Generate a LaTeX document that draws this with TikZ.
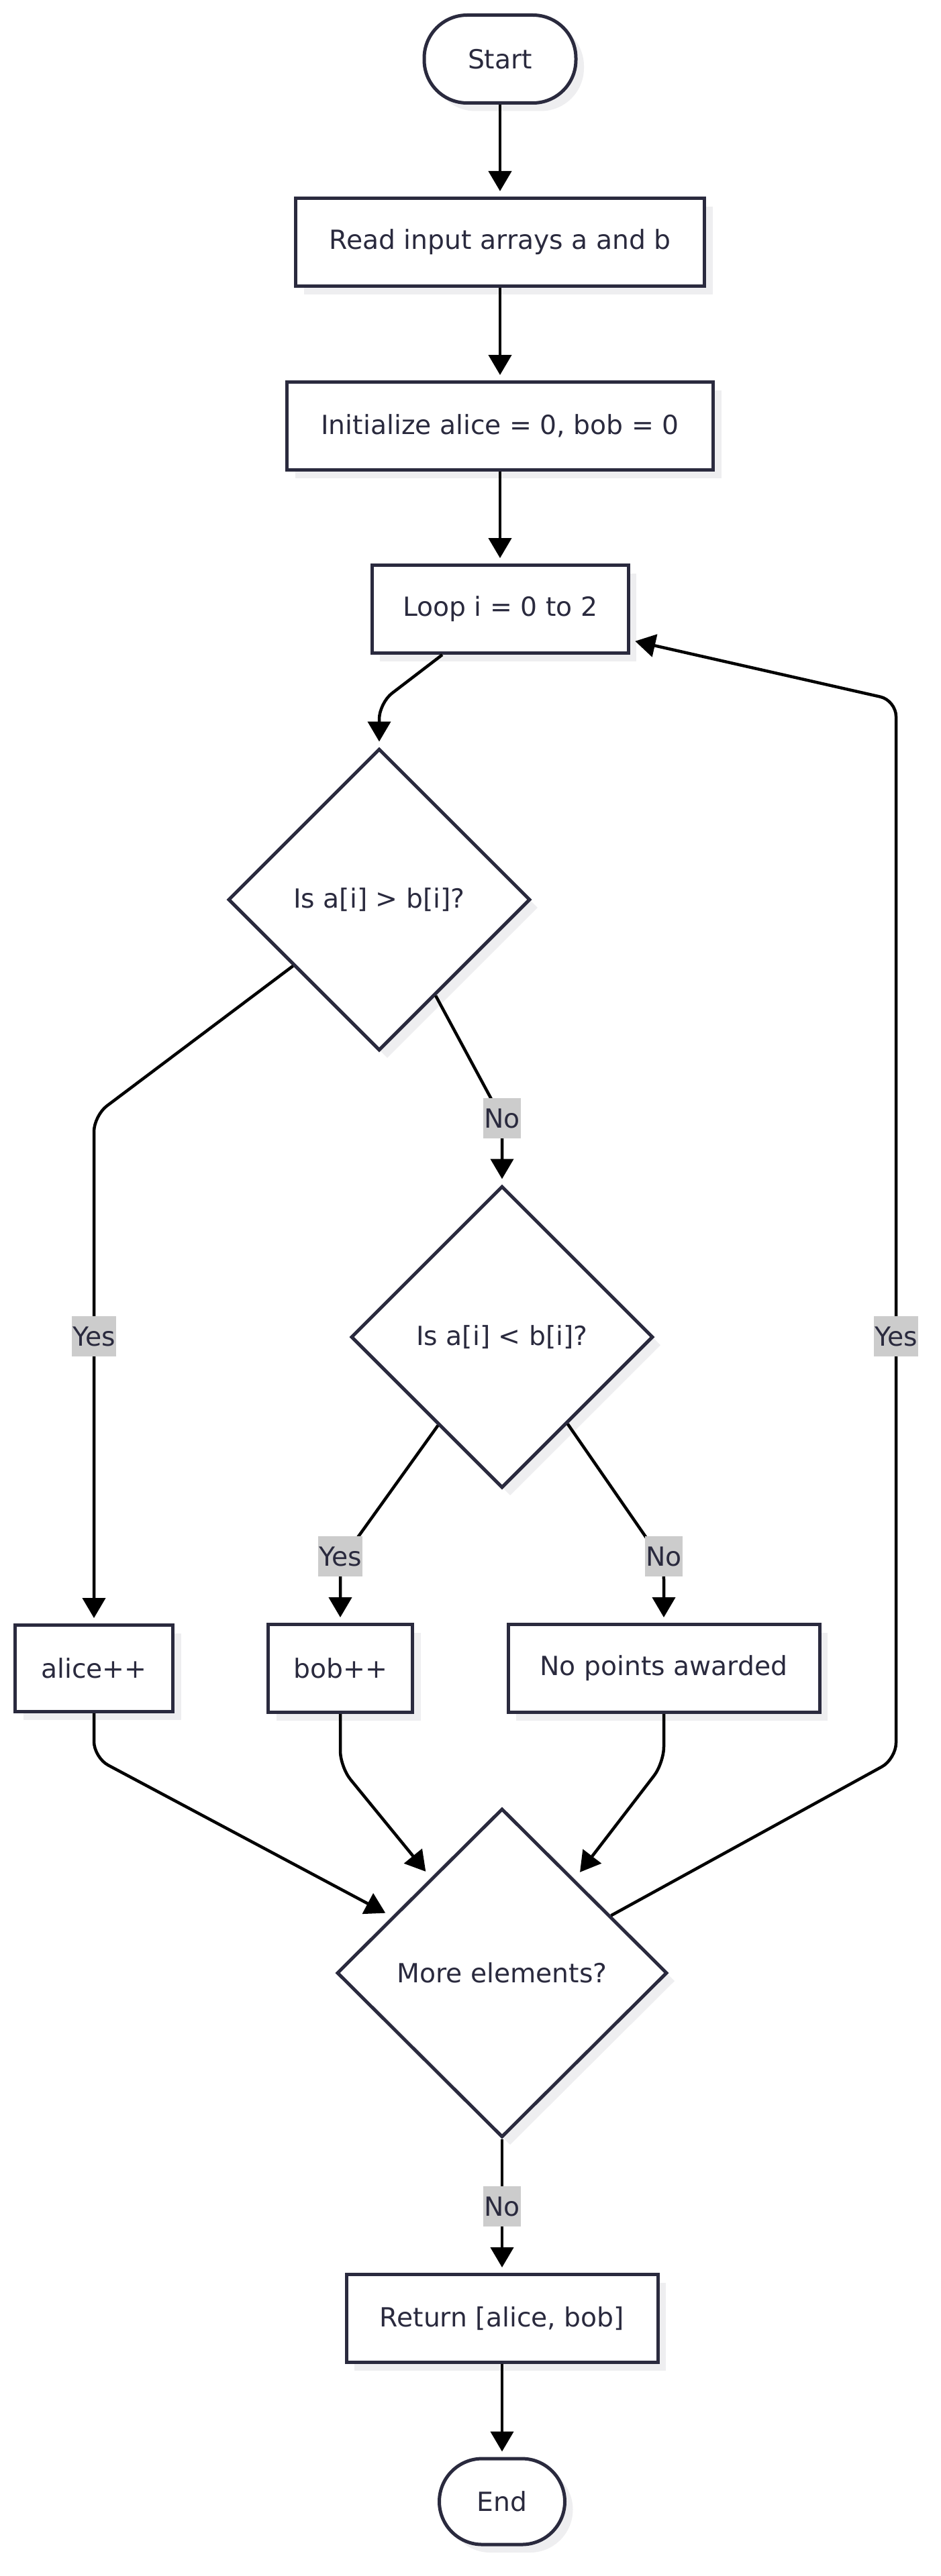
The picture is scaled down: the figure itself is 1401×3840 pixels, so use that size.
\documentclass[tikz,border=0pt]{standalone}
\usepackage{fontspec}
\setmainfont{DejaVu Sans}
\usetikzlibrary{shapes.geometric,shadows,calc,arrows.meta}
\definecolor{navy}{HTML}{2A2A3E}
\definecolor{shadowc}{HTML}{EEEEF0}
\definecolor{lblgrey}{HTML}{CCCCCC}
\begin{document}
\begin{tikzpicture}[x=1pt,y=-1pt,
 base/.style={draw=navy, line width=5pt, fill=white, text=navy, inner sep=0pt,
   font=\fontsize{39.3}{47}\selectfont,
   drop shadow={shadow xshift=12pt,shadow yshift=-12pt,fill=shadowc,opacity=1}},
 box/.style={base, rectangle, minimum height=131pt},
 term/.style={base, rectangle, rounded corners=64pt, minimum height=131pt},
 dec/.style={base, diamond, minimum width=450pt, minimum height=450pt},
 edge/.style={line width=4.5pt, black, rounded corners=24pt,
   -{Triangle[length=30pt,width=34pt]}, shorten >=8pt},
 lbl/.style={fill=lblgrey, text=navy, inner xsep=1pt, inner ysep=0pt,
   minimum height=60pt, font=\fontsize{39.3}{47}\selectfont}
]
\useasboundingbox[fill=white] (0,0) rectangle (1401,3840);

\node[term, minimum width=226pt] (start) at (745,88) {Start};
\node[box, minimum width=609pt] (read) at (745,361) {Read input arrays a and b};
\node[box, minimum width=635pt] (init) at (745,635) {Initialize alice = 0, bob = 0};
\node[box, minimum width=382pt] (loop) at (745,908) {Loop i = 0 to 2};
\node[dec] (d1) at (565,1341) {Is a[i] > b[i]?};
\node[dec] (d2) at (748,1993) {Is a[i] < b[i]?};
\node[box, minimum width=235pt, minimum height=129pt] (alice) at (140,2487) {alice++};
\node[box, minimum width=215pt] (bob) at (507,2487) {bob++};
\node[box, minimum width=464pt] (nopts) at (989,2487) {No points awarded};
\node[dec, minimum width=492pt, minimum height=490pt] (d3) at (748,2941) {More elements?};
\node[box, minimum width=464pt] (ret) at (748,3456) {Return [alice, bob]};
\node[term, minimum width=187pt, minimum height=128pt] (stop) at (748,3729) {End};

\draw[edge] (start) -- (read);
\draw[edge] (read) -- (init);
\draw[edge] (init) -- (loop);
\draw[edge] ([xshift=-86pt]loop.south) -- (565,1048) -- (d1.north);
\draw[edge] ($(d1.west)!0.435!(d1.south)$) -- (140,1663) -- (alice.north);
\draw[edge] ($(d1.east)!0.63!(d1.south)$) -- (748,1668) -- (d2.north);
\draw[edge] ($(d2.west)!0.58!(d2.south)$) -- (507,2328) -- (bob.north);
\draw[edge] ($(d2.east)!0.57!(d2.south)$) -- (989,2330) -- (nopts.north);
\draw[edge, shorten >=11pt] (alice.south) -- (140,2620) -- ($(d3.west)!0.34!(d3.north)$);
\draw[edge, shorten >=12pt] (bob.south) -- (507,2634) -- ($(d3.west)!0.573!(d3.north)$);
\draw[edge, shorten >=13pt] (nopts.south) -- (989,2628) -- ($(d3.north)!0.435!(d3.east)$);
\draw[edge] ($(d3.north)!0.654!(d3.east)$) -- (1335,2622) -- (1335,1044) -- ([yshift=-46pt]loop.east);
\draw[edge] (d3.south) -- (ret.north);
\draw[edge] (ret) -- (stop);

\node[lbl] (l1) at (748,1667) {No};
\node[lbl] (l2) at (140,1992) {Yes};
\node[lbl] (l3) at (507,2320) {Yes};
\node[lbl] (l4) at (989,2320) {No};
\node[lbl] (l5) at (1335,1992) {Yes};
\node[lbl] (l6) at (748,3289) {No};
\end{tikzpicture}
\end{document}
